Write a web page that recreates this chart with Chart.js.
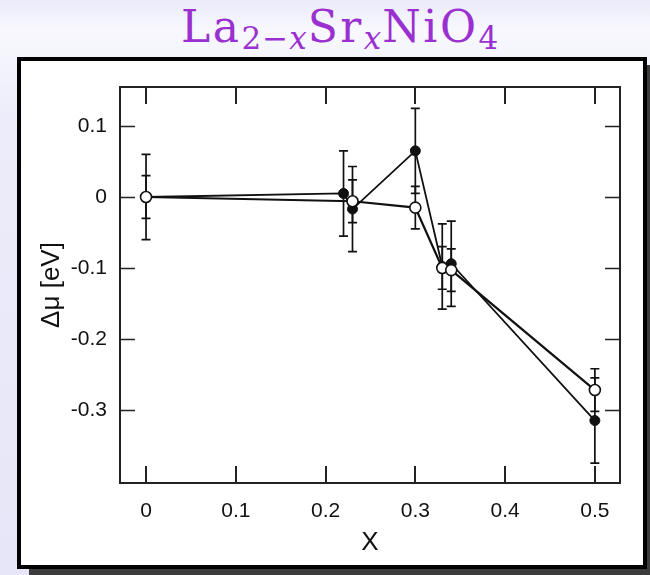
<!DOCTYPE html>
<html lang="en">
<head>
  <meta charset="UTF-8">
  <title>La2-xSrxNiO4</title>
  <script src="https://cdn.jsdelivr.net/npm/chart.js"></script>
  <style>
    html, body {
      margin: 0;
      padding: 0;
    }
    body {
      width: 650px;
      height: 575px;
      overflow: hidden;
      position: relative;
      background: linear-gradient(to bottom, #ebebf9 0px, #f8f8fe 30px, #ececfa 120px, #e6e6f8 575px);
    }
    .slide-title {
      position: absolute;
      left: 181px;
      top: 3px;
      font-family: "DejaVu Serif", serif;
      font-size: 44px;
      line-height: 47px;
      color: #9b30d0;
      letter-spacing: 2.5px;
      white-space: nowrap;
    }
    .slide-title sub {
      font-size: 31px;
      vertical-align: -7px;
      line-height: 0;
      letter-spacing: 1px;
    }
    .frame {
      position: absolute;
      left: 17px;
      top: 57px;
      width: 622px;
      height: 504px;
      border: 4px solid #000;
      background: #fff;
      box-shadow: 12px 8px 0 #3c3c3c;
    }
    #chart {
      position: absolute;
      left: 0;
      top: 0;
    }
  </style>
</head>
<body>
  <div class="slide-title">La<sub>2&minus;<i>x</i></sub>Sr<sub><i>x</i></sub>NiO<sub>4</sub></div>
  <div class="frame"></div>
  <canvas id="chart" width="650" height="575"></canvas>

  <script>
    // Sr content x, chemical potential shift (eV), error half-widths
    const filledX = [0, 0.22, 0.23, 0.3, 0.33, 0.34, 0.5];
    const filledY = [0, 0.005, -0.017, 0.065, -0.098, -0.094, -0.315];
    const filledErr = [0.06, 0.06, 0.06, 0.06, 0.06, 0.06, 0.06];

    const openX = [0, 0.23, 0.3, 0.33, 0.34, 0.5];
    const openY = [0, -0.006, -0.015, -0.1, -0.103, -0.272];
    const openErr = [0.03, 0.03, 0.03, 0.03, 0.03, 0.03];

    const xTicks = [0, 0.1, 0.2, 0.3, 0.4, 0.5];
    const yTicks = [0.1, 0, -0.1, -0.2, -0.3];

    function toPoints(xs, ys) {
      return xs.map((x, i) => ({ x: x, y: ys[i] }));
    }

    function fmt(v) {
      return v === 0 ? '0' : String(+v.toFixed(1));
    }

    // vertical error bars with caps, drawn under the markers
    const errorBars = {
      id: 'errorBars',
      beforeDatasetsDraw(chart) {
        const ctx = chart.ctx;
        const xs = chart.scales.x;
        const ys = chart.scales.y;
        ctx.save();
        ctx.strokeStyle = '#111';
        ctx.lineWidth = 1.7;
        chart.data.datasets.forEach(ds => {
          ds.data.forEach((p, i) => {
            const e = ds.errors[i];
            const px = xs.getPixelForValue(p.x);
            const top = ys.getPixelForValue(p.y + e);
            const bot = ys.getPixelForValue(p.y - e);
            ctx.beginPath();
            ctx.moveTo(px, top);
            ctx.lineTo(px, bot);
            ctx.moveTo(px - 4.5, top);
            ctx.lineTo(px + 4.5, top);
            ctx.moveTo(px - 4.5, bot);
            ctx.lineTo(px + 4.5, bot);
            ctx.stroke();
          });
        });
        ctx.restore();
      }
    };

    // box around the plot with inward ticks on all four sides
    const boxTicks = {
      id: 'boxTicks',
      afterDraw(chart) {
        const ctx = chart.ctx;
        const a = chart.chartArea;
        const xs = chart.scales.x;
        const ys = chart.scales.y;
        ctx.save();
        ctx.strokeStyle = '#222';
        ctx.lineWidth = 2;
        ctx.strokeRect(a.left, a.top, a.right - a.left, a.bottom - a.top);
        ctx.beginPath();
        xTicks.forEach(v => {
          const px = Math.round(xs.getPixelForValue(v));
          ctx.moveTo(px, a.bottom);
          ctx.lineTo(px, a.bottom - 17);
          ctx.moveTo(px, a.top);
          ctx.lineTo(px, a.top + 17);
        });
        ctx.stroke();
        ctx.lineWidth = 1.5;
        ctx.beginPath();
        yTicks.forEach(v => {
          const py = Math.round(ys.getPixelForValue(v)) + 0.5;
          ctx.moveTo(a.left, py);
          ctx.lineTo(a.left + 15, py);
          ctx.moveTo(a.right, py);
          ctx.lineTo(a.right - 15, py);
        });
        ctx.stroke();
        ctx.restore();
      }
    };

    const ctx = document.getElementById('chart').getContext('2d');
    new Chart(ctx, {
      type: 'scatter',
      data: {
        datasets: [
          {
            label: 'open',
            data: toPoints(openX, openY),
            errors: openErr,
            showLine: true,
            borderColor: '#111',
            borderWidth: 2.2,
            backgroundColor: '#fff',
            pointBackgroundColor: '#fff',
            pointBorderColor: '#111',
            pointBorderWidth: 1.6,
            pointRadius: 5.5,
            tension: 0
          },
          {
            label: 'filled',
            data: toPoints(filledX, filledY),
            errors: filledErr,
            showLine: true,
            borderColor: '#111',
            borderWidth: 1.8,
            backgroundColor: '#111',
            pointBackgroundColor: '#111',
            pointBorderColor: '#111',
            pointBorderWidth: 1,
            pointRadius: 5,
            tension: 0
          }
        ]
      },
      options: {
        responsive: false,
        animation: false,
        devicePixelRatio: 1,
        layout: { padding: { left: 20, right: 30, top: 87, bottom: 0 } },
        plugins: {
          legend: { display: false },
          tooltip: { enabled: false }
        },
        scales: {
          x: {
            type: 'linear',
            min: -0.029,
            max: 0.528,
            afterBuildTicks: s => { s.ticks = xTicks.map(v => ({ value: v })); },
            afterFit: s => { s.height = 92; },
            grid: { display: false, drawTicks: false },
            border: { display: false },
            ticks: {
              padding: 16,
              color: '#111',
              font: { family: 'Liberation Sans', size: 21 },
              maxRotation: 0,
              autoSkip: false,
              callback: v => fmt(v)
            },
            title: {
              display: true,
              text: 'X',
              color: '#111',
              font: { family: 'Liberation Sans', size: 26 },
              padding: { top: 0, bottom: 17 }
            }
          },
          y: {
            type: 'linear',
            min: -0.403,
            max: 0.155,
            afterBuildTicks: s => { s.ticks = yTicks.map(v => ({ value: v })); },
            afterFit: s => { s.width = 100; },
            grid: { display: false, drawTicks: false },
            border: { display: false },
            ticks: {
              padding: 13,
              color: '#111',
              font: { family: 'Liberation Sans', size: 21 },
              autoSkip: false,
              callback: v => fmt(v)
            },
            title: {
              display: true,
              text: 'Δμ [eV]',
              color: '#111',
              font: { family: 'Liberation Sans', size: 26 },
              padding: { top: 16, bottom: 16 }
            }
          }
        }
      },
      plugins: [errorBars, boxTicks]
    });
  </script>
</body>
</html>
